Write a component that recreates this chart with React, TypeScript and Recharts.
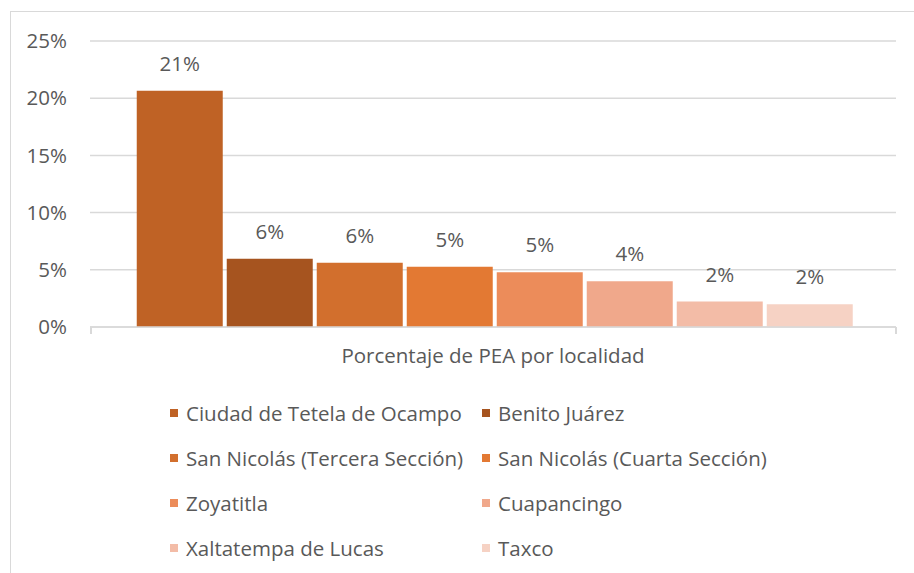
import React from 'react';
import { BarChart, Bar, XAxis, YAxis, CartesianGrid, LabelList } from 'recharts';

const category = 'Porcentaje de PEA por localidad';
const localities = [
  'Ciudad de Tetela de Ocampo',
  'Benito Juárez',
  'San Nicolás (Tercera Sección)',
  'San Nicolás (Cuarta Sección)',
  'Zoyatitla',
  'Cuapancingo',
  'Xaltatempa de Lucas',
  'Taxco',
];
const values = [20.65, 5.96, 5.61, 5.26, 4.79, 4.0, 2.22, 1.98];
const yTicks = [0, 5, 10, 15, 20, 25];
const colors = ['#BF6225', '#A6541F', '#D26F2D', '#E37933', '#EC8C5A', '#F0A88B', '#F3BCA7', '#F6D2C4'];

const row: Record<string, any> = { name: category };
localities.forEach((l, i) => { row['s' + i] = values[i]; });
const data = [row];

const FONT = '"Open Sans", sans-serif';
const TXT = '#595959';
const FS = 20.5;

export default function App() {
  return (
    <div style={{ position: 'absolute', left: 0, top: 0, width: 914, height: 573, overflow: 'hidden', background: '#fff', fontFamily: FONT }}>
      <div style={{ position: 'absolute', left: 10, top: 11, width: 940, height: 600, border: '1px solid #d9d9d9' }} />
      <div style={{ position: 'absolute', left: 0, top: 0 }}>
        <BarChart
          width={914}
          height={573}
          data={data}
          margin={{ top: 41, right: 18, bottom: 206, left: 0 }}
          barCategoryGap="5.8%"
          barGap={4}
        >
          <CartesianGrid vertical={false} stroke="#d9d9d9" strokeWidth={1.5} />
          <XAxis
            dataKey="name"
            height={40}
            axisLine={{ stroke: '#d9d9d9', strokeWidth: 1.5 }}
            tickLine={false}
            tickMargin={15}
            tick={{ fill: TXT, fontSize: FS, fontFamily: FONT }}
          />
          <YAxis
            width={90}
            domain={[0, 25]}
            ticks={yTicks}
            axisLine={false}
            tickLine={false}
            tickMargin={17}
            tickFormatter={(v: number) => `${v}%`}
            tick={{ fill: TXT, fontSize: FS, fontFamily: FONT }}
          />
          {localities.map((l, i) => (
            <Bar key={l} dataKey={'s' + i} name={l} fill={colors[i]} isAnimationActive={false}>
              <LabelList
                dataKey={'s' + i}
                position="top"
                offset={20}
                formatter={(v: any) => `${Math.round(Number(v))}%`}
                style={{ fill: TXT, fontSize: FS, fontFamily: FONT }}
              />
            </Bar>
          ))}
        </BarChart>
      </div>
      <div style={{ position: 'absolute', left: 90, top: 327, width: 1.5, height: 7, background: '#d9d9d9' }} />
      <div style={{ position: 'absolute', left: 895, top: 327, width: 1.5, height: 7, background: '#d9d9d9' }} />
      {localities.map((l, i) => {
        const col = i % 2;
        const r = Math.floor(i / 2);
        return (
          <div
            key={l}
            style={{
              position: 'absolute',
              left: col === 0 ? 170 : 482,
              top: 413 + r * 45 - 14,
              height: 28,
              display: 'flex',
              alignItems: 'center',
              whiteSpace: 'nowrap',
              color: TXT,
              fontSize: FS,
            }}
          >
            <span style={{ display: 'inline-block', width: 8, height: 8, background: colors[i], marginRight: 8 }} />
            <span>{l}</span>
          </div>
        );
      })}
    </div>
  );
}
